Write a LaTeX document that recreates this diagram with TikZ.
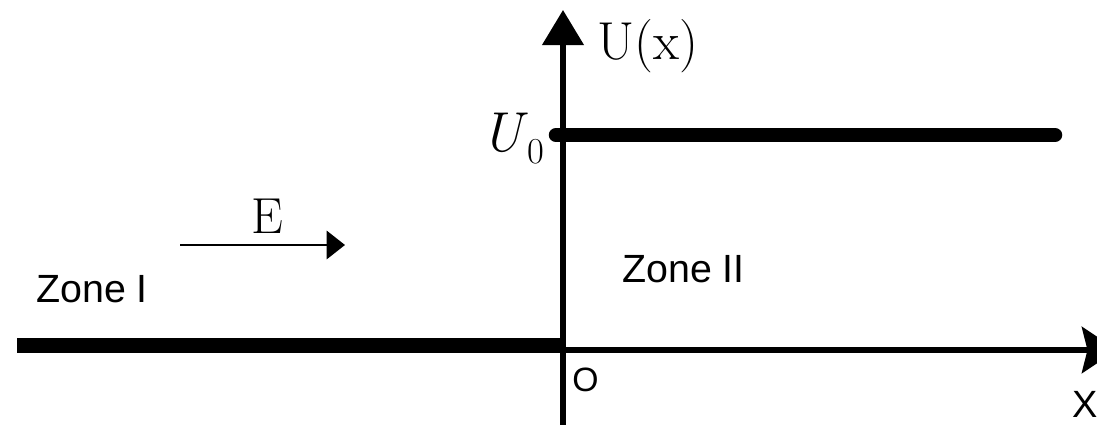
\documentclass[tikz,border=0pt]{standalone}
\usepackage{fontspec}
\newfontfamily\zonefont{Liberation Sans}
\usepackage{tikz}
\usetikzlibrary{
  arrows.meta,
  positioning
}
\tikzset{
    axisline/.style={line width=3.9pt},
    levelline/.style={line width=10.3pt},
    zonelabel/.style={font=\zonefont\fontsize{28}{30}\selectfont, anchor=base west, inner sep=0pt},
    mathlabel/.style={font=\fontsize{38}{42}\selectfont, anchor=base west, inner sep=0pt}
}

\begin{document}
\begin{tikzpicture}[x=0.025cm, y=0.025cm]
    \useasboundingbox (0,0) rectangle (1097,425);
    \coordinate (O) at (563,75);
    \coordinate (ybot) at (563,0);
    \coordinate (ytop) at (563,415);
    \coordinate (xend) at (1117,75);
    \coordinate (levelL) at (556,290);
    \coordinate (levelR) at (1055,290);
    \coordinate (floorL) at (17,79.5);
    \coordinate (floorR) at (563,79.5);
    \coordinate (Estart) at (180,180);
    \coordinate (Eend) at (345,180);

    \draw[levelline] (floorL) -- (floorR);
    \draw[levelline, line cap=round] (levelL) -- (levelR);
    \draw[axisline, -{Triangle[length=25pt, width=29pt]}] (ybot) -- (ytop);
    \draw[axisline, -{Stealth[length=25pt, width=33pt, inset=4pt]}] (O) -- (xend);
    \draw[line width=1.8pt, -{Triangle[length=13pt, width=20pt]}] (Estart) -- (Eend);

    \node[mathlabel] (Ulabel) at (597,365) {U(x)};
    \node[mathlabel, font=\fontsize{40}{44}\selectfont, anchor=base east] (U0label) at (545,273)
        {\textit{U}\raisebox{-8pt}{\fontsize{26}{28}\selectfont 0}};
    \node[mathlabel, font=\fontsize{36}{40}\selectfont] (Elabel) at (251,191) {E};
    \node[zonelabel] (zoneI) at (36,122) {Zone I};
    \node[zonelabel] (zoneII) at (622,142) {Zone II};
    \node[zonelabel, font=\zonefont\fontsize{24}{26}\selectfont] (origin) at (572,33) {O};
    \node[zonelabel, font=\zonefont\fontsize{27}{29}\selectfont] (xlabel) at (1072,7) {X};
\end{tikzpicture}
\end{document}
